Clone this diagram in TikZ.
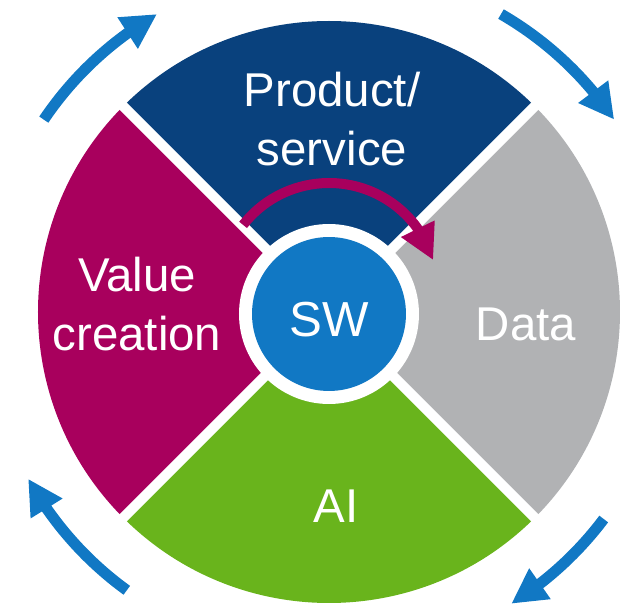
\documentclass[tikz,border=0pt]{standalone}
\usepackage{fontspec}
\setmainfont{Liberation Sans}
\usepackage{tikz}
\usetikzlibrary{arrows.meta, bending}
\definecolor{prodBlue}{RGB}{9,65,125}
\definecolor{valueRed}{RGB}{168,0,93}
\definecolor{dataGrey}{RGB}{177,178,180}
\definecolor{aiGreen}{RGB}{105,180,28}
\definecolor{swBlue}{RGB}{17,120,196}
\tikzstyle{segLabel} = [text=white, align=center, font=\fontsize{27}{34}\selectfont]
\tikzstyle{hubNode} = [circle, minimum size=3.08cm, inner sep=0pt, fill=swBlue, text=white, font=\fontsize{28}{34}\selectfont, text height=0.9cm, text depth=0pt]
\tikzstyle{gapLine} = [draw=white, line width=0.2cm]
\tikzstyle{cycleArrow} = [draw=swBlue, line width=0.22cm, -{Triangle[length=0.7cm, width=0.7cm, flex]}]

\begin{document}
\begin{tikzpicture}[x=0.02cm, y=0.02cm]
                                \useasboundingbox (-329,-293) rectangle (301,312);
                                \fill [prodBlue] (0,0) -- (45:291) arc (45:135:291) -- cycle;
                                \fill [valueRed] (0,0) -- (135:291) arc (135:225:291) -- cycle;
                                \fill [aiGreen] (0,0) -- (225:291) arc (225:315:291) -- cycle;
                                \fill [dataGrey] (0,0) -- (-45:291) arc (-45:45:291) -- cycle;
                                \draw [gapLine] (45:300) -- (225:300);
                                \draw [gapLine] (135:300) -- (-45:300);
                                \fill [white] (0,-2) circle (90);
                                \node (sw) [hubNode] at (0,-2) {SW};
                                \node (product) [segLabel] at (3,193) {Product/\\service};
                                \node (value) [segLabel] at (-192,8) {Value\\creation};
                                \node (data) [segLabel] at (197,-12) {Data};
                                \node (ai) [segLabel] at (7,-194) {AI};
                                \draw [valueRed, line width=0.2cm, -{Triangle[length=0.7cm, width=0.7cm, flex]}] (0,20) ++(142:109) arc (142:17:109);
                                \draw [cycleArrow] (146:344) arc (146:120:344);
                                \draw [cycleArrow] (60:344) arc (60:34:344);
                                \draw [cycleArrow] (-37:344) arc (-37:-58:344);
                                \draw [cycleArrow] (234:344) arc (234:209:344);
                            \end{tikzpicture}
\end{document}
